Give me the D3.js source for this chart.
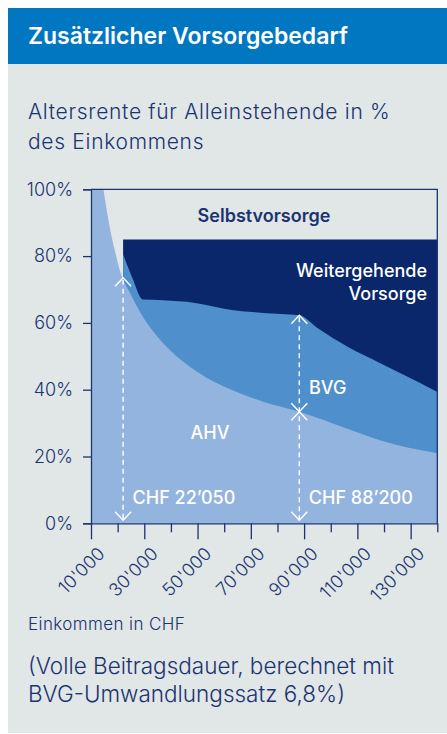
<!DOCTYPE html>
<html>
<head>
<meta charset="utf-8">
<script src="https://cdn.jsdelivr.net/npm/d3@7"></script>
<style>
  body { margin: 0; background: #fff; }
  svg text { font-family: Inter, "Noto Sans", sans-serif; }
</style>
</head>
<body>
<div id="chart"></div>
<script>
// income in CHF, rates in % of income
var ahvIncome = [10000, 12000, 14700, 16400, 19300, 21100, 24600, 28400, 33600, 39600, 45900, 53400, 62100, 74600, 88200, 106000, 118400, 140000]
var ahvRate = [145, 120, 100, 91.4, 80.5, 75, 69, 63.3, 57.2, 51.9, 47.6, 43.6, 40.2, 36.4, 33.4, 28.4, 24.9, 21]

var bvgIncome = [22050, 25500, 29400, 37000, 45900, 63400, 74600, 88200, 95000, 106500, 119000, 131500, 140000]
var bvgRate = [80.5, 73.5, 67, 66.8, 66.3, 63.8, 63.0, 62.3, 58.5, 52.8, 47.8, 42.8, 39.3]

var weiterIncome = [22050, 140000]
var weiterRate = [85, 85]

var yTicks = [0, 20, 40, 60, 80, 100]
var xTicks = [10000, 20000, 30000, 40000, 50000, 60000, 70000, 80000, 90000, 100000, 110000, 120000, 130000, 140000]
var xTickLabels = ["10'000", "", "30'000", "", "50'000", "", "70'000", "", "90'000", "", "110'000", "", "130'000", ""]

var thresholds = [22050, 88200]
var thresholdLabels = ["CHF 22’050", "CHF 88’200"]
var thresholdMarks = [[0, 73.5], [0, 33.4, 62.3]]

var W = 447, H = 734
var navy = "#1b3470"

var svg = d3.select("#chart").append("svg")
    .attr("width", W)
    .attr("height", H)

svg.append("rect").attr("x", 8).attr("y", 8).attr("width", W - 8).attr("height", 725).attr("fill", "#e1e6e7")
svg.append("rect").attr("x", 8).attr("y", 8).attr("width", W - 8).attr("height", 56).attr("fill", "#0077c0")

svg.append("text").attr("x", 28).attr("y", 44)
    .attr("fill", "#fff").attr("font-size", 23).attr("font-weight", 600)
    .text("Zusätzlicher Vorsorgebedarf")

svg.append("text").attr("x", 28).attr("y", 119)
    .attr("fill", navy).attr("font-size", 21).attr("font-weight", 300).attr("letter-spacing", 0.7)
    .selectAll("tspan")
    .data(["Altersrente für Alleinstehende in %", "des Einkommens"])
    .enter().append("tspan")
    .attr("x", 28).attr("dy", function (d, i) { return i ? 29.5 : 0 })
    .text(function (d) { return d })

var x = d3.scaleLinear().domain([10000, 140000]).range([91, 437.3])
var y = d3.scaleLinear().domain([0, 100]).range([523.3, 189.3])

svg.append("clipPath").attr("id", "plot-clip")
  .append("rect")
    .attr("x", x.range()[0]).attr("y", y(100))
    .attr("width", x.range()[1] - x.range()[0]).attr("height", y(0) - y(100))

var plot = svg.append("g").attr("clip-path", "url(#plot-clip)")

function area(xs, ys) {
  return d3.area()
    .x(function (d, i) { return x(xs[i]) })
    .y0(y(0))
    .y1(function (d, i) { return y(ys[i]) })
    .curve(d3.curveMonotoneX)(xs)
}

plot.append("path").attr("d", area(weiterIncome, weiterRate)).attr("fill", "#0b276b")
plot.append("path").attr("d", area(bvgIncome, bvgRate)).attr("fill", "#4f8fcc")
plot.append("path").attr("d", area(ahvIncome, ahvRate)).attr("fill", "#93b4de")

function chevron(cx, tip, dir) {
  plot.append("polyline")
      .attr("points", [[cx - 8, tip + 8.5 * dir], [cx, tip], [cx + 8, tip + 8.5 * dir]].join(" "))
      .attr("fill", "none").attr("stroke", "#fff").attr("stroke-width", 1.4)
}

// dashed markers: up chevron on every level above 0, down chevron below every level except the top
thresholds.forEach(function (t, k) {
  var cx = x(t)
  var marks = thresholdMarks[k]
  plot.append("line")
      .attr("x1", cx).attr("x2", cx)
      .attr("y1", y(d3.max(marks)) + 2).attr("y2", y(0) - 3)
      .attr("stroke", "#fff").attr("stroke-width", 1.4).attr("stroke-dasharray", "5,4")
  marks.forEach(function (m, j) {
    var tip = m === 0 ? y(0) - 3 : y(m)
    if (m > 0) chevron(cx, tip, 1)
    if (j < marks.length - 1) chevron(cx, tip, -1)
  })
  svg.append("text").attr("x", cx + 9.5).attr("y", 503.5)
      .attr("fill", "#fff").attr("font-size", 18).attr("font-weight", 500)
      .text(thresholdLabels[k])
})

// frame and axes
svg.append("path")
    .attr("d", "M" + x(10000) + "," + y(100) + "H" + x(140000) + "V" + y(0))
    .attr("fill", "none").attr("stroke", navy).attr("stroke-width", 1.3)

svg.append("g")
    .attr("transform", "translate(" + x(10000) + ",0)")
    .call(d3.axisLeft(y).tickValues(yTicks).tickSize(8).tickPadding(10).tickFormat(function (d) { return d + "%" }))
    .call(function (g) {
      g.selectAll("path, line").attr("stroke", navy).attr("stroke-width", 1.3)
      g.selectAll("text").attr("fill", navy).attr("font-size", 18).attr("font-weight", 300).attr("font-family", null)
    })

var xAxis = svg.append("g")
    .attr("transform", "translate(0," + y(0) + ")")
    .call(d3.axisBottom(x).tickValues(xTicks).tickSizeOuter(0).tickFormat(function (d, i) { return xTickLabels[i] }))
xAxis.selectAll("path, line").attr("stroke", navy).attr("stroke-width", 1.3)
xAxis.selectAll(".tick line").attr("y2", function (d, i) { return xTickLabels[i] ? 16 : 9 })
xAxis.selectAll(".tick text")
    .attr("fill", navy).attr("font-size", 18).attr("font-weight", 300).attr("font-family", null)
    .attr("text-anchor", "end")
    .attr("y", 0).attr("dy", "0.35em")
    .attr("transform", "translate(10,27) rotate(-45)")

// labels inside the chart
svg.append("text").attr("x", 264).attr("y", 221.5).attr("text-anchor", "middle")
    .attr("fill", navy).attr("font-size", 18).attr("font-weight", 600)
    .text("Selbstvorsorge")

svg.append("text").attr("y", 276.5).attr("text-anchor", "end")
    .attr("fill", "#fff").attr("font-size", 18).attr("font-weight", 500)
    .selectAll("tspan").data(["Weitergehende", "Vorsorge"]).enter().append("tspan")
    .attr("x", 427).attr("dy", function (d, i) { return i ? 23.5 : 0 })
    .text(function (d) { return d })

svg.append("text").attr("x", 309).attr("y", 394)
    .attr("fill", "#fff").attr("font-size", 18).attr("font-weight", 500)
    .text("BVG")

svg.append("text").attr("x", 210).attr("y", 438.5).attr("text-anchor", "middle")
    .attr("fill", "#fff").attr("font-size", 18).attr("font-weight", 500)
    .text("AHV")

svg.append("text").attr("x", 28).attr("y", 630)
    .attr("fill", navy).attr("font-size", 17).attr("font-weight", 300).attr("letter-spacing", 0.4)
    .text("Einkommen in CHF")

svg.append("text").attr("x", 28).attr("y", 673.5)
    .attr("fill", navy).attr("font-size", 22.5).attr("font-weight", 300)
    .selectAll("tspan")
    .data(["(Volle Beitragsdauer, berechnet mit", "BVG-Umwandlungssatz 6,8%)"])
    .enter().append("tspan")
    .attr("x", 28).attr("dy", function (d, i) { return i ? 28.5 : 0 })
    .text(function (d) { return d })
</script>
</body>
</html>
